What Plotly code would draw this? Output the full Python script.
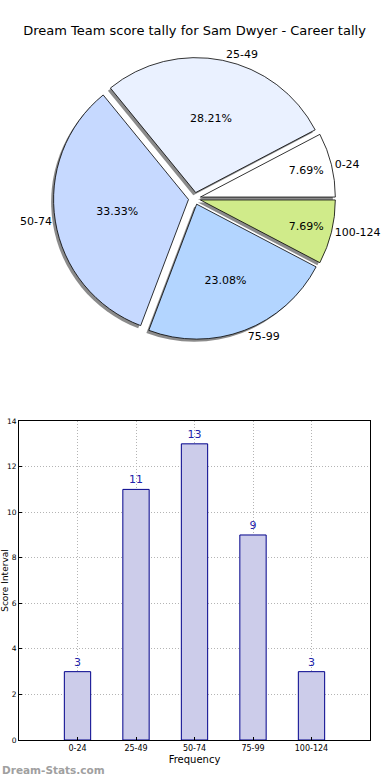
import plotly.graph_objects as go

categories = ["0-24", "25-49", "50-74", "75-99", "100-124"]
counts = [3, 11, 13, 9, 3]
slice_colors = ["#ffffff", "#eaf1ff", "#c6d9ff", "#b3d5ff", "#d0eb8a"]
y_ticks = [0, 2, 4, 6, 8, 10, 12, 14]
title_text = "Dream Team score tally for Sam Dwyer - Career tally"

fig = go.Figure()

pie_dom_x = [0.0983, 0.9017]
pie_dom_y = [0.5412, 0.9223]
pull = [0.045] * len(categories)
# first slice starts at 3 o'clock and runs counter-clockwise
rot = 90 - 360 * counts[0] / sum(counts)

# shadow
fig.add_trace(go.Pie(
    labels=categories, values=counts, sort=False, direction="counterclockwise",
    rotation=rot, pull=pull,
    marker=dict(colors=["rgba(110,110,110,0.8)"] * 5, line=dict(width=0)),
    textinfo="none", hoverinfo="skip", showlegend=False,
    domain=dict(x=[pie_dom_x[0] - 0.007, pie_dom_x[1] - 0.007],
                y=[pie_dom_y[0] - 0.0035, pie_dom_y[1] - 0.0035]),
))
# main pie
fig.add_trace(go.Pie(
    labels=categories, values=counts, sort=False, direction="counterclockwise",
    rotation=rot, pull=pull,
    marker=dict(colors=slice_colors, line=dict(color="#000000", width=0.8)),
    texttemplate="%{percent:.2%}", textposition="inside",
    insidetextorientation="horizontal",
    textfont=dict(family="DejaVu Sans", size=11, color="#000000"),
    showlegend=False,
    domain=dict(x=pie_dom_x, y=pie_dom_y),
))
# outside labels
fig.add_trace(go.Pie(
    labels=categories, values=counts, sort=False, direction="counterclockwise",
    rotation=rot, pull=pull,
    marker=dict(colors=["rgba(0,0,0,0)"] * 5, line=dict(width=0)),
    textinfo="label", textposition="outside",
    textfont=dict(family="DejaVu Sans", size=11, color="#000000"),
    hoverinfo="skip", showlegend=False,
    domain=dict(x=pie_dom_x, y=pie_dom_y),
))

fig.add_trace(go.Bar(
    x=categories, y=counts, width=0.45,
    marker=dict(color="#ccccea", line=dict(color="#00008b", width=1)),
    text=counts, textposition="outside", cliponaxis=False,
    textfont=dict(family="DejaVu Sans", size=11, color="#2222aa"),
    showlegend=False, xaxis="x", yaxis="y",
))

fig.update_layout(
    width=390, height=780, autosize=False,
    margin=dict(l=19, r=20, t=0, b=40, autoexpand=False),
    paper_bgcolor="white", plot_bgcolor="white",
    font=dict(family="DejaVu Sans", color="#000000"),
    title=dict(text=title_text, x=0.5, xanchor="center", xref="paper",
               y=0.9615, yref="container", yanchor="middle",
               font=dict(family="DejaVu Sans", size=13, color="#000000")),
    xaxis=dict(domain=[0, 1], range=[-1, 5], type="category",
               showline=True, linecolor="#000000", linewidth=1, mirror=True,
               showgrid=True, gridcolor="#b4b4b4", griddash="1px,2px", gridwidth=1,
               ticks="inside", ticklen=3, tickcolor="#000000",
               tickfont=dict(size=8, family="DejaVu Sans"),
               title=dict(text="Frequency", font=dict(size=10), standoff=4),
               automargin=False, zeroline=False),
    yaxis=dict(domain=[0, 0.431], range=[0, 14], tickvals=y_ticks,
               showline=True, linecolor="#000000", linewidth=1, mirror=True,
               showgrid=True, gridcolor="#b4b4b4", griddash="1px,2px", gridwidth=1,
               ticks="inside", ticklen=3, tickcolor="#000000",
               tickfont=dict(size=7.5, family="DejaVu Sans"),
               title=dict(text="Score Interval", font=dict(size=9), standoff=5),
               automargin=False, zeroline=False),
    annotations=[dict(text="<b>Dream-Stats.com</b>", xref="paper", yref="paper",
                      x=-0.054, y=-0.0405, xanchor="left", yanchor="middle",
                      showarrow=False,
                      font=dict(family="DejaVu Sans", size=10.5, color="#a0a0a0"))],
)

fig.write_html(
    "out.html",
    config={"displayModeBar": False, "responsive": False},
    post_script="document.body.style.margin='0px';document.body.style.overflow='hidden';",
)
